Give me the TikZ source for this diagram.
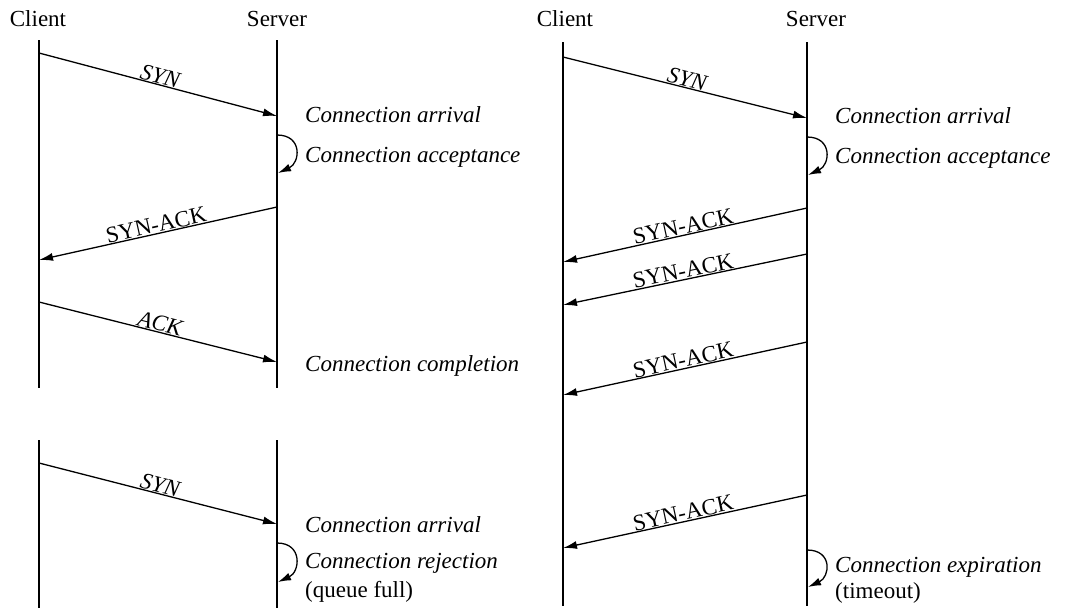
\documentclass[tikz,border=0pt]{standalone}
\usepackage{fontspec}
\setmainfont{Liberation Serif}
\usetikzlibrary{arrows.meta}
\begin{document}
\begin{tikzpicture}[x=1pt,y=-1pt,
  lifeline/.style={line width=1.3pt},
  msg/.style={line width=1.3pt,-{Latex[length=14pt,width=8pt]}},
  msglabel/.style={sloped,above,inner sep=0.5pt,font=\fontsize{23}{27}\selectfont},
  head/.style={anchor=base,inner sep=0pt,font=\fontsize{23}{27}\selectfont},
  event/.style={anchor=base west,inner sep=0pt,font=\fontsize{23}{27}\selectfont\itshape},
  note/.style={anchor=base west,inner sep=0pt,font=\fontsize{23}{27}\selectfont},
  selfloop/.style={line width=1.3pt,-{Latex[length=13pt,width=8pt]}}]

\useasboundingbox (0,0) rectangle (1068,608);

% ---------- headers ----------
\node[head] (hc1) at (38,26) {Client};
\node[head] (hs1) at (277,26) {Server};
\node[head] (hc2) at (565,26) {Client};
\node[head] (hs2) at (816,26) {Server};

% ---------- lifelines ----------
\coordinate (lc1t) at (39,40);  \coordinate (lc1b) at (39,388);
\coordinate (ls1t) at (277,40); \coordinate (ls1b) at (277,388);
\coordinate (lc2t) at (39,440); \coordinate (lc2b) at (39,608);
\coordinate (ls2t) at (277,440);\coordinate (ls2b) at (277,608);
\coordinate (rct) at (563,42);  \coordinate (rcb) at (563,606);
\coordinate (rst) at (807,42);  \coordinate (rsb) at (807,606);

\draw[lifeline] (lc1t) -- (lc1b);
\draw[lifeline] (ls1t) -- (ls1b);
\draw[lifeline] (lc2t) -- (lc2b);
\draw[lifeline] (ls2t) -- (ls2b);
\draw[lifeline] (rct) -- (rcb);
\draw[lifeline] (rst) -- (rsb);

% ---------- successful handshake ----------
\coordinate (a1) at (39,53);   \coordinate (b1) at (277,116);
\coordinate (q1s) at (277,135); \coordinate (q1e) at (278,173);
\coordinate (b2) at (277,207); \coordinate (a2) at (39,260);
\coordinate (a3) at (39,302);  \coordinate (b3) at (277,362);

\draw[msg] (a1) -- node[msglabel] {\itshape SYN} (b1);
\draw[selfloop] (q1s) .. controls +(26,0) and +(22,-10) .. (q1e);
\draw[msg] (b2) -- node[msglabel] {SYN-ACK} (a2);
\draw[msg] (a3) -- node[msglabel] {\itshape ACK} (b3);

\node[event] (e1) at (305,122) {Connection arrival};
\node[event] (e2) at (305,162) {Connection acceptance};
\node[event] (e3) at (305,371) {Connection completion};

% ---------- rejected connection ----------
\coordinate (a4) at (39,463);  \coordinate (b4) at (277,524);
\coordinate (q2s) at (277,543); \coordinate (q2e) at (278,582);

\draw[msg] (a4) -- node[msglabel] {\itshape SYN} (b4);
\draw[selfloop] (q2s) .. controls +(26,0) and +(22,-10) .. (q2e);

\node[event] (e4) at (305,532) {Connection arrival};
\node[event] (e5) at (305,568) {Connection rejection};
\node[note]  (e6) at (305,597) {(queue full)};

% ---------- expired connection ----------
\coordinate (c1) at (563,57);  \coordinate (d1) at (807,118);
\coordinate (q3s) at (807,137); \coordinate (q3e) at (808,175);
\coordinate (d2) at (807,208); \coordinate (c2) at (563,262);
\coordinate (d3) at (807,254); \coordinate (c3) at (563,305);
\coordinate (d4) at (807,342); \coordinate (c4) at (563,395);
\coordinate (d5) at (807,495); \coordinate (c5) at (563,548);
\coordinate (q4s) at (807,550); \coordinate (q4e) at (808,587);

\draw[msg] (c1) -- node[msglabel] {\itshape SYN} (d1);
\draw[selfloop] (q3s) .. controls +(26,0) and +(22,-10) .. (q3e);
\draw[msg] (d2) -- node[msglabel] {SYN-ACK} (c2);
\draw[msg] (d3) -- node[msglabel] {SYN-ACK} (c3);
\draw[msg] (d4) -- node[msglabel] {SYN-ACK} (c4);
\draw[msg] (d5) -- node[msglabel] {SYN-ACK} (c5);
\draw[selfloop] (q4s) .. controls +(26,0) and +(22,-10) .. (q4e);

\node[event] (f1) at (835,123) {Connection arrival};
\node[event] (f2) at (835,163) {Connection acceptance};
\node[event] (f3) at (835,572) {Connection expiration};
\node[note]  (f4) at (835,598) {(timeout)};

\end{tikzpicture}
\end{document}
